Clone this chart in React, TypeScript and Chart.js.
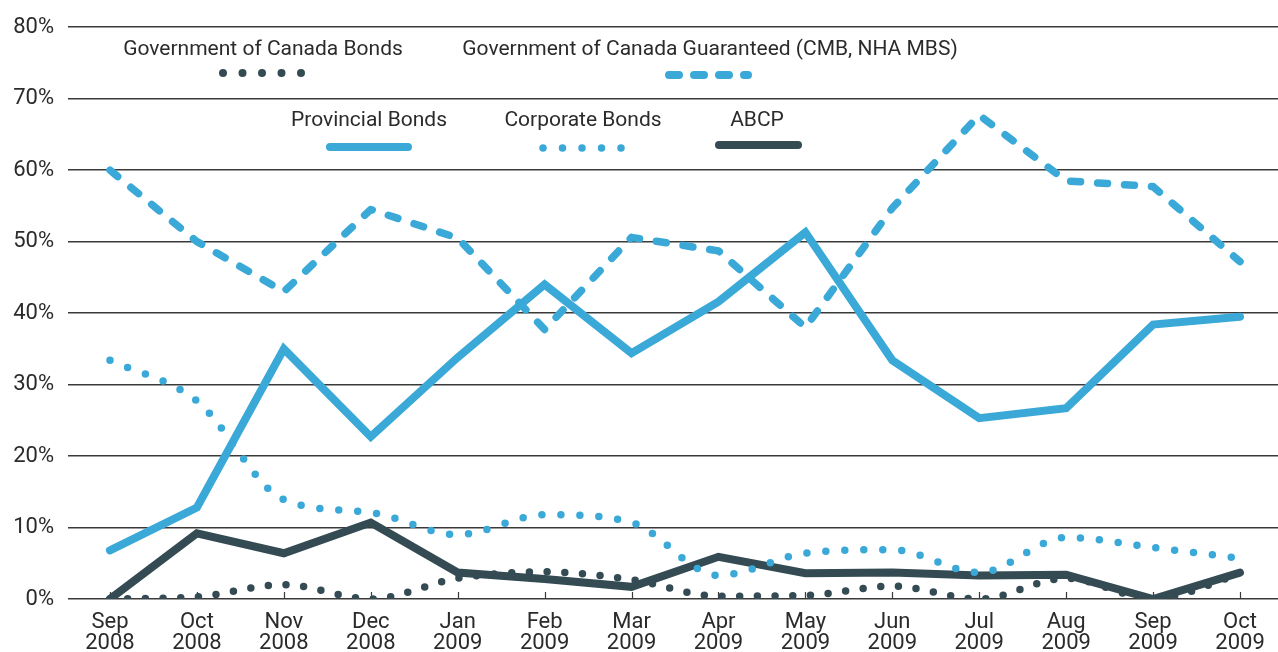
import React, { useEffect, useRef } from 'react';
import { Chart, registerables } from 'chart.js';

Chart.register(...registerables);

const months = ['Sep', 'Oct', 'Nov', 'Dec', 'Jan', 'Feb', 'Mar', 'Apr', 'May', 'Jun', 'Jul', 'Aug', 'Sep', 'Oct'];
const years = ['2008', '2008', '2008', '2008', '2009', '2009', '2009', '2009', '2009', '2009', '2009', '2009', '2009', '2009'];

const govBonds = [0, 0.3, 2.0, 0, 2.9, 3.8, 2.7, 0.4, 0.5, 1.8, 0, 2.9, 0, 3.5];
const govGuaranteed = [60, 50, 43, 54.5, 50.5, 37.7, 50.6, 48.7, 38, 54.7, 67.7, 58.5, 57.7, 47.2];
const provincial = [6.8, 12.8, 35, 22.7, 33.8, 44, 34.4, 41.6, 51.3, 33.4, 25.3, 26.7, 38.4, 39.5];
const corporate = [33.4, 27.7, 13.9, 12.1, 9.0, 11.8, 10.7, 3.3, 6.4, 6.9, 3.7, 8.6, 7.2, 5.7];
const abcp = [0, 9.2, 6.4, 10.7, 3.7, 2.8, 1.7, 5.9, 3.6, 3.7, 3.3, 3.4, 0, 3.7];

const yTicks = [0, 10, 20, 30, 40, 50, 60, 70, 80];

const LIGHT = '#3aa9d8';
const DARK = '#344b54';
const GRID = '#3a3a3a';
const TEXT = '#2b2b2b';
const FONT = 'Roboto';

const DOT_GOV = [0, 17.7];
const DOT_CORP = [0, 19];
const DASH = [10, 17];

type LegendItem = {
  label: string;
  tx: number;
  ty: number;
  x1: number;
  x2: number;
  ly: number;
  color: string;
  width: number;
  dash: number[];
};

const legendItems: LegendItem[] = [
  { label: 'Government of Canada Bonds', tx: 263, ty: 50, x1: 223, x2: 302, ly: 73, color: DARK, width: 8, dash: [0, 19.5] },
  { label: 'Government of Canada Guaranteed (CMB, NHA MBS)', tx: 710, ty: 50, x1: 669, x2: 748, ly: 75, color: LIGHT, width: 8, dash: [10, 15] },
  { label: 'Provincial Bonds', tx: 369, ty: 121, x1: 330, x2: 408, ly: 147, color: LIGHT, width: 8, dash: [] },
  { label: 'Corporate Bonds', tx: 583, ty: 121, x1: 543, x2: 622, ly: 148, color: LIGHT, width: 7.5, dash: [0, 19.5] },
  { label: 'ABCP', tx: 757, ty: 121, x1: 719, x2: 798, ly: 145, color: DARK, width: 8, dash: [] },
];

const tickMarksPlugin = {
  id: 'tickMarks',
  beforeDatasetsDraw(chart: any) {
    const { ctx, scales } = chart;
    const xs = scales.x;
    const y0 = scales.y.getPixelForValue(0);
    ctx.save();
    ctx.strokeStyle = GRID;
    ctx.lineWidth = 1.2;
    months.forEach((_, i) => {
      const x = Math.round(xs.getPixelForValue(i)) + 0.5;
      ctx.beginPath();
      ctx.moveTo(x, y0);
      ctx.lineTo(x, y0 - 7);
      ctx.stroke();
    });
    ctx.restore();
  },
};

const customLegendPlugin = {
  id: 'customLegend',
  afterDraw(chart: any) {
    const { ctx } = chart;
    ctx.save();
    ctx.font = `21px ${FONT}`;
    ctx.fillStyle = TEXT;
    ctx.textAlign = 'center';
    ctx.textBaseline = 'middle';
    legendItems.forEach((it) => {
      ctx.fillText(it.label, it.tx, it.ty);
      ctx.beginPath();
      ctx.strokeStyle = it.color;
      ctx.lineWidth = it.width;
      ctx.lineCap = 'round';
      ctx.setLineDash(it.dash);
      ctx.moveTo(it.x1, it.ly);
      ctx.lineTo(it.x2, it.ly);
      ctx.stroke();
    });
    ctx.restore();
  },
};

const toPoints = (arr: number[]) => arr.map((v, i) => ({ x: i, y: v }));

export default function App() {
  const canvasRef = useRef<HTMLCanvasElement | null>(null);

  useEffect(() => {
    if (!canvasRef.current) return;
    const chart = new Chart(canvasRef.current, {
      type: 'line',
      data: {
        datasets: [
          {
            label: 'Government of Canada Guaranteed (CMB, NHA MBS)',
            data: toPoints(govGuaranteed),
            borderColor: LIGHT,
            borderWidth: 7.5,
            borderDash: DASH,
            borderCapStyle: 'round',
            borderJoinStyle: 'round',
            tension: 0,
            pointRadius: 0,
          },
          {
            label: 'Corporate Bonds',
            data: toPoints(corporate),
            borderColor: LIGHT,
            borderWidth: 7.5,
            borderDash: DOT_CORP,
            borderCapStyle: 'round',
            cubicInterpolationMode: 'monotone',
            pointRadius: 0,
          },
          {
            label: 'Provincial Bonds',
            data: toPoints(provincial),
            borderColor: LIGHT,
            borderWidth: 8,
            borderCapStyle: 'round',
            borderJoinStyle: 'miter',
            tension: 0,
            pointRadius: 0,
          },
          {
            label: 'Government of Canada Bonds',
            data: toPoints(govBonds),
            borderColor: DARK,
            borderWidth: 7.5,
            borderDash: DOT_GOV,
            borderCapStyle: 'round',
            cubicInterpolationMode: 'monotone',
            pointRadius: 0,
          },
          {
            label: 'ABCP',
            data: toPoints(abcp),
            borderColor: DARK,
            borderWidth: 8,
            borderCapStyle: 'round',
            borderJoinStyle: 'miter',
            tension: 0,
            pointRadius: 0,
          },
        ],
      },
      options: {
        animation: false,
        responsive: false,
        layout: { padding: { top: 24, right: 0, left: 0, bottom: 0 } },
        plugins: {
          legend: { display: false },
          tooltip: { enabled: false },
        },
        scales: {
          x: {
            type: 'linear',
            min: -0.483,
            max: 13.437,
            afterBuildTicks: (axis: any) => {
              axis.ticks = months.map((_, i) => ({ value: i }));
            },
            afterFit: (scale: any) => {
              scale.height = 53;
            },
            grid: { display: false, drawTicks: false },
            border: { display: false },
            ticks: {
              autoSkip: false,
              maxRotation: 0,
              padding: 13,
              color: TEXT,
              font: { family: FONT, size: 22, lineHeight: 0.96 },
              callback: (v: any) => [months[v], years[v]],
            },
          },
          y: {
            min: 0,
            max: 80,
            afterBuildTicks: (axis: any) => {
              axis.ticks = yTicks.map((v) => ({ value: v }));
            },
            afterFit: (scale: any) => {
              scale.width = 68;
            },
            grid: { color: GRID, lineWidth: 1.5, drawTicks: false },
            border: { display: false },
            ticks: {
              padding: 14,
              color: TEXT,
              font: { family: FONT, size: 22 },
              callback: (v: any) => `${v}%`,
            },
          },
        },
      },
      plugins: [tickMarksPlugin, customLegendPlugin],
    });
    return () => chart.destroy();
  }, []);

  return (
    <canvas
      ref={canvasRef}
      width={1278}
      height={652}
      style={{ position: 'absolute', left: 0, top: 0, width: 1278, height: 652 }}
    />
  );
}
